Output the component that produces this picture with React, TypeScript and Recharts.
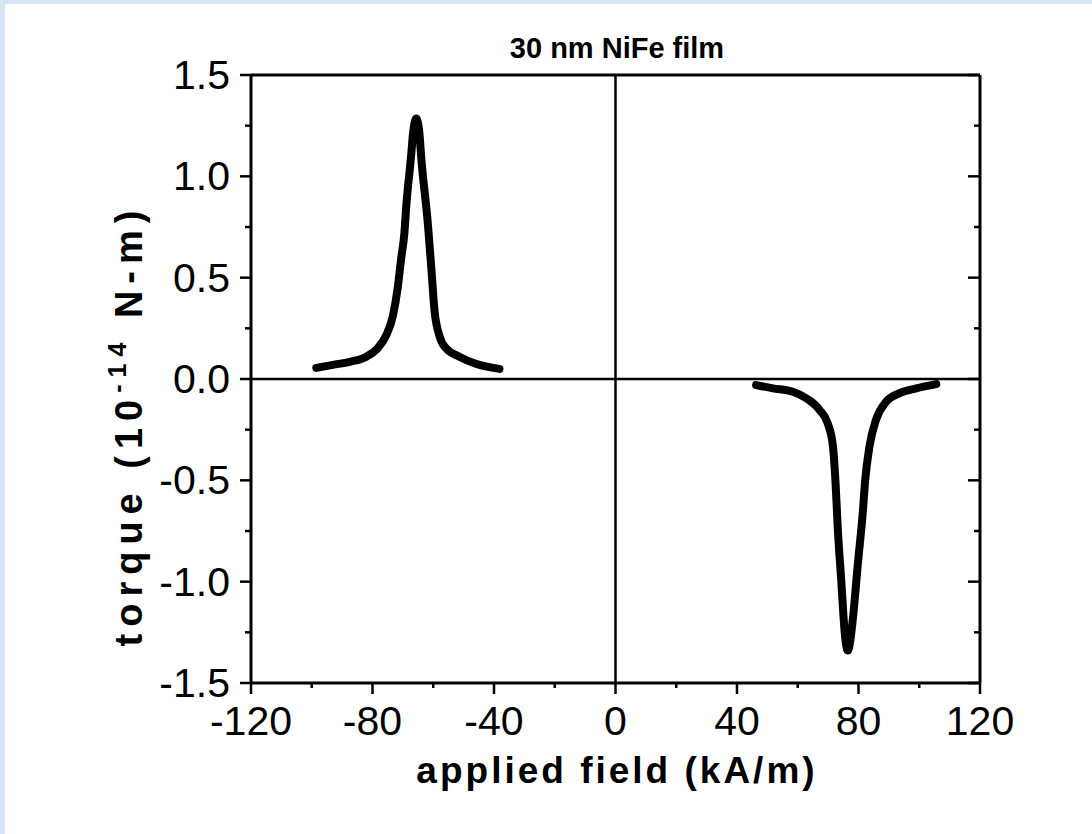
import { ComposedChart, Line, XAxis, YAxis, ReferenceLine } from 'recharts'

// field (kA/m) and torque (1e-14 N-m)
const leftField = [-98.5, -93, -87.5, -82, -78.4, -75.5, -73.3, -71.7, -70.6, -69.5, -68.9, -67.3, -66.6, -65.6, -64.6, -64.0, -61.8, -60.6, -59.6, -57.9, -55.7, -51.4, -46, -38.2]
const leftTorque = [0.055, 0.07, 0.085, 0.11, 0.15, 0.215, 0.31, 0.45, 0.59, 0.72, 0.85, 1.1, 1.22, 1.285, 1.22, 1.1, 0.77, 0.54, 0.34, 0.21, 0.15, 0.11, 0.075, 0.05]

const rightField = [46.3, 51.8, 58.4, 62.8, 67.2, 69.9, 71.6, 72.4, 73.2, 74.3, 75.4, 75.9, 76.5, 77.1, 78.1, 79.8, 81.4, 82.2, 83.6, 85.8, 89.1, 93.5, 99, 105.6]
const rightTorque = [-0.03, -0.046, -0.063, -0.095, -0.153, -0.22, -0.334, -0.5, -0.745, -0.99, -1.24, -1.31, -1.34, -1.31, -1.19, -0.91, -0.66, -0.5, -0.334, -0.2, -0.112, -0.07, -0.046, -0.025]

const xTicks = [-120, -100, -80, -60, -40, -20, 0, 20, 40, 60, 80, 100, 120]
const yTicks = [-1.5, -1.25, -1, -0.75, -0.5, -0.25, 0, 0.25, 0.5, 0.75, 1, 1.25, 1.5]

const leftData = leftField.map((x, i) => ({ x, y: leftTorque[i] }))
const rightData = rightField.map((x, i) => ({ x, y: rightTorque[i] }))

const font = 'Arial, "Liberation Sans", Helvetica, sans-serif'
const isMajorX = (v: number) => v % 40 === 0
const isMajorY = (v: number) => Math.abs(v * 2 - Math.round(v * 2)) < 1e-6

const BottomTick = ({ x, y, payload }: any) => {
  const major = isMajorX(payload.value)
  return (
    <g>
      <line x1={x} x2={x} y1={y} y2={y + (major ? 11 : 5)} stroke="#000" strokeWidth={2.5} />
      {major && (
        <text x={x} y={y + 52} textAnchor="middle" fontSize={41} fontFamily={font} fill="#000">
          {payload.value}
        </text>
      )}
    </g>
  )
}

const TopTick = ({ x, y, payload }: any) => (
  <line x1={x} x2={x} y1={y} y2={y + (isMajorX(payload.value) ? 13 : 7)} stroke="#000" strokeWidth={2.5} />
)

const LeftTick = ({ x, y, payload }: any) => {
  const major = isMajorY(payload.value)
  return (
    <g>
      <line x1={x} x2={x - (major ? 11 : 6)} y1={y} y2={y} stroke="#000" strokeWidth={2.5} />
      {major && (
        <text x={x - 21} y={y + 14} textAnchor="end" fontSize={41} fontFamily={font} fill="#000">
          {payload.value.toFixed(1)}
        </text>
      )}
    </g>
  )
}

const RightTick = ({ x, y, payload }: any) => (
  <line x1={x} x2={x - (isMajorY(payload.value) ? 12 : 6)} y1={y} y2={y} stroke="#000" strokeWidth={2.5} />
)

export default function App() {
  return (
    <div style={{ position: 'absolute', left: 0, top: 0, width: 1092, height: 834, background: '#d8e5f7' }}>
      <div style={{ position: 'absolute', left: 5, top: 4, right: 0, bottom: 0, background: '#fff' }} />
      <div style={{ position: 'absolute', left: 0, top: 0 }}>
        <ComposedChart width={1092} height={834} margin={{ top: 65, left: 151, right: 102, bottom: 91 }}>
          <XAxis
            dataKey="x"
            type="number"
            domain={[-120, 120]}
            ticks={xTicks}
            interval={0}
            height={60}
            tickSize={0}
            tickMargin={0}
            tickLine={false}
            axisLine={{ stroke: '#000', strokeWidth: 3 }}
            tick={<BottomTick />}
            allowDataOverflow
          />
          <XAxis
            xAxisId="top"
            orientation="top"
            type="number"
            domain={[-120, 120]}
            ticks={xTicks}
            interval={0}
            height={10}
            tickSize={0}
            tickMargin={0}
            tickLine={false}
            axisLine={{ stroke: '#000', strokeWidth: 3 }}
            tick={<TopTick />}
            allowDataOverflow
          />
          <YAxis
            type="number"
            domain={[-1.5, 1.5]}
            ticks={yTicks}
            interval={0}
            width={100}
            tickSize={0}
            tickMargin={0}
            tickLine={false}
            axisLine={{ stroke: '#000', strokeWidth: 3 }}
            tick={<LeftTick />}
            allowDataOverflow
          />
          <YAxis
            yAxisId="right"
            orientation="right"
            type="number"
            domain={[-1.5, 1.5]}
            ticks={yTicks}
            interval={0}
            width={10}
            tickSize={0}
            tickMargin={0}
            tickLine={false}
            axisLine={{ stroke: '#000', strokeWidth: 3 }}
            tick={<RightTick />}
            allowDataOverflow
          />
          <ReferenceLine x={0} stroke="#000" strokeWidth={2.5} />
          <ReferenceLine y={0} stroke="#000" strokeWidth={2.5} />
          <Line data={leftData} dataKey="y" type="monotone" stroke="#000" strokeWidth={8} strokeLinecap="round" dot={false} isAnimationActive={false} />
          <Line data={rightData} dataKey="y" type="monotone" stroke="#000" strokeWidth={8} strokeLinecap="round" dot={false} isAnimationActive={false} />
        </ComposedChart>
      </div>
      <svg width={1092} height={834} style={{ position: 'absolute', left: 0, top: 0, pointerEvents: 'none' }}>
        <text x={617} y={58} textAnchor="middle" fontSize={29} fontWeight="bold" fontFamily={font} fill="#000">
          30 nm NiFe film
        </text>
        <text x={617} y={783} textAnchor="middle" fontSize={37} fontWeight="bold" fontFamily={font} letterSpacing={3} fill="#000">
          applied field (kA/m)
        </text>
        <text
          transform="translate(142,425) rotate(-90)"
          textAnchor="middle"
          fontSize={38}
          fontWeight="bold"
          fontFamily={font}
          letterSpacing={7}
          fill="#000"
        >
          torque (10<tspan fontSize={25} dy={-16}>-14</tspan>
          <tspan dy={16}> N-m)</tspan>
        </text>
      </svg>
    </div>
  )
}
